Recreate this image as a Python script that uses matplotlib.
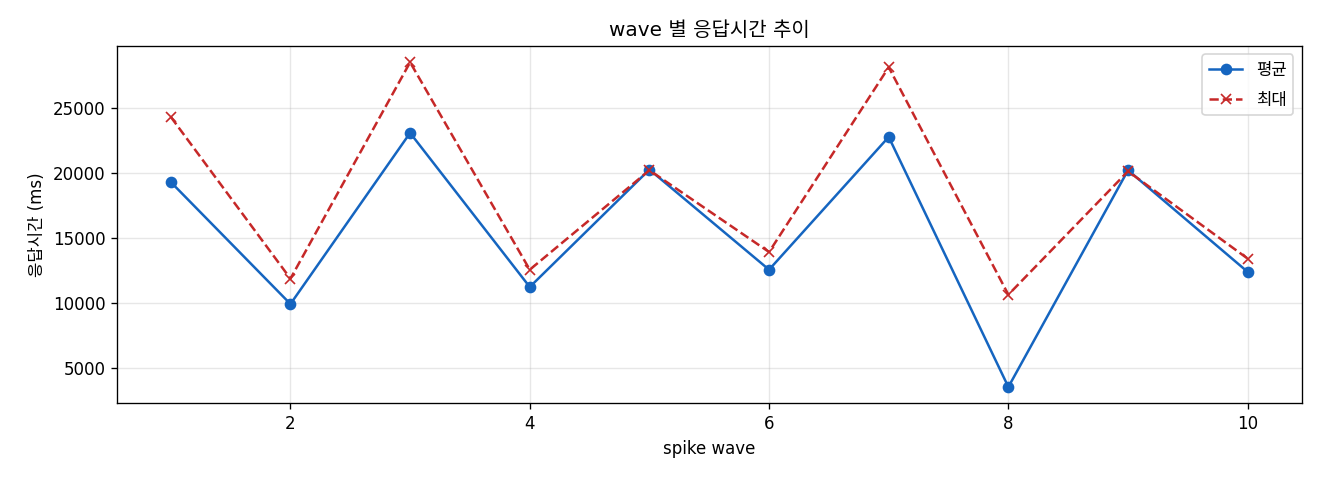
#!/usr/bin/env python3

import matplotlib
matplotlib.use("Agg")
import matplotlib.pyplot as plt

plt.rcParams["font.family"] = ["DejaVu Sans", "Noto Sans CJK KR"]
plt.rcParams["axes.unicode_minus"] = False

waves = [1, 2, 3, 4, 5, 6, 7, 8, 9, 10]
avg_ms = [19300, 9920, 23080, 11230, 20260, 12560, 22770, 3540, 20210, 12390]
max_ms = [24310, 11870, 28510, 12560, 20210, 13920, 28130, 10640, 20130, 13410]


def main():
    fig, ax = plt.subplots(figsize=(11, 4), dpi=120)
    fig.subplots_adjust(left=0.0886, right=0.986, top=0.904, bottom=0.160)

    ax.plot(waves, avg_ms, marker="o", color="#1565c0", label="평균")
    ax.plot(waves, max_ms, marker="x", linestyle="--", color="#c62828", label="최대")

    ax.set_title("wave 별 응답시간 추이")
    ax.set_xlabel("spike wave")
    ax.set_ylabel("응답시간 (ms)")
    ax.grid(True, alpha=0.3)
    ax.legend(loc="upper right", labelspacing=0.7)

    fig.savefig("out.png", dpi=120)
    plt.close(fig)


if __name__ == "__main__":
    main()
